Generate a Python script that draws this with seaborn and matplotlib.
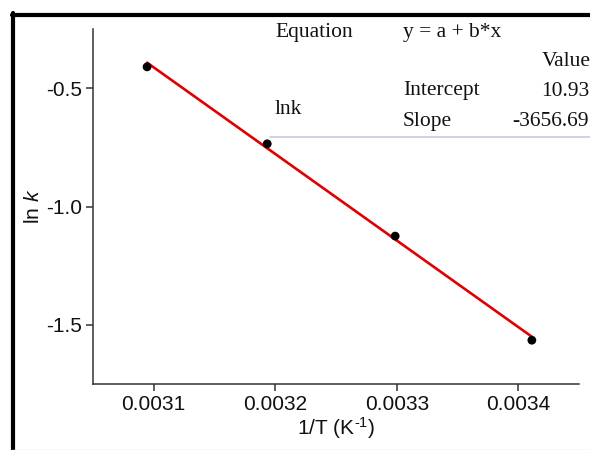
import matplotlib
matplotlib.use("Agg")
import matplotlib.pyplot as plt
from matplotlib.lines import Line2D
import seaborn as sns
import pandas as pd

# Data (1/T in K^-1, ln k)
inv_T = [0.0030945, 0.0031934, 0.0032987, 0.0034112]
ln_k = [-0.41, -0.735, -1.125, -1.565]
x_ticks = [0.0031, 0.0032, 0.0033, 0.0034]
y_ticks = [-0.5, -1.0, -1.5]
table_rows = ["Intercept", "Slope"]
table_vals = ["10.93", "-3656.69"]

df = pd.DataFrame({"x": inv_T, "y": ln_k})

sns.set_style("ticks")
plt.rcParams["font.family"] = ["Liberation Sans", "DejaVu Sans"]
plt.rcParams["mathtext.fontset"] = "custom"
plt.rcParams["mathtext.rm"] = "Liberation Sans"
plt.rcParams["mathtext.it"] = "Liberation Sans:italic"

W, H = 590, 450
fig = plt.figure(figsize=(W / 100, H / 100), dpi=100)
ax = fig.add_axes([93 / W, 1 - 384 / H, (579 - 93) / W, (384 - 29) / H])

sns.regplot(data=df, x="x", y="y", ax=ax, ci=None, truncate=True,
            scatter_kws=dict(color="black", s=40, zorder=3, edgecolor="none", alpha=1),
            line_kws=dict(color="#e00000", lw=1.9, zorder=2))

ax.set_xlim(0.00305, 0.00345)
ax.set_ylim(-1.75, -0.25)
ax.set_xticks(x_ticks)
ax.set_xticklabels([f"{v:.4f}" for v in x_ticks])
ax.set_yticks(y_ticks)
ax.set_yticklabels([f"{v:.1f}" for v in y_ticks])
for s in ["top", "right"]:
    ax.spines[s].set_visible(False)
for s in ["left", "bottom"]:
    ax.spines[s].set_color("#333333")
    ax.spines[s].set_linewidth(1.1)
ax.tick_params(direction="out", length=5, width=1.1, color="#333333",
               labelsize=15, pad=3, labelcolor="#111111")
ax.set_xlabel(r"1/T (K$^{\text{-1}}$)", fontsize=15, labelpad=1, color="#111111")
ax.set_ylabel(r"ln $\mathit{k}$", fontsize=15, labelpad=2, color="#111111")
ax.set_facecolor("white")

# Fit table text (serif)
serif = ["Liberation Serif", "DejaVu Serif"]
def ftext(x, y, s, ha="left"):
    fig.text(x / W, 1 - y / H, s, ha=ha, va="center", family=serif,
             fontsize=15.5, color="#111111")

ftext(275, 33, "Equation")
ftext(403, 33, "y = a + b*x")
ftext(591, 62, "Value", ha="right")
ftext(275, 109, "lnk")
ftext(403, 91, table_rows[0])
ftext(589, 91, table_vals[0], ha="right")
ftext(403, 121, table_rows[1])
ftext(589, 121, table_vals[1], ha="right")

fig.add_artist(Line2D([270 / W, 1.0], [1 - 137 / H, 1 - 137 / H],
                      transform=fig.transFigure, color="#c8cbe0", lw=1.2))

# Figure frame (top and left edges)
fig.add_artist(Line2D([12 / W, 1.0], [1 - 14.5 / H, 1 - 14.5 / H],
                      transform=fig.transFigure, color="black", lw=3))
fig.add_artist(Line2D([12.5 / W, 12.5 / W], [0, 1 - 13 / H],
                      transform=fig.transFigure, color="black", lw=3))
fig.add_artist(Line2D([12 / W, 1.0], [0.5 / H, 0.5 / H],
                      transform=fig.transFigure, color="#dddddd", lw=1))

fig.savefig("out.png", dpi=100)
